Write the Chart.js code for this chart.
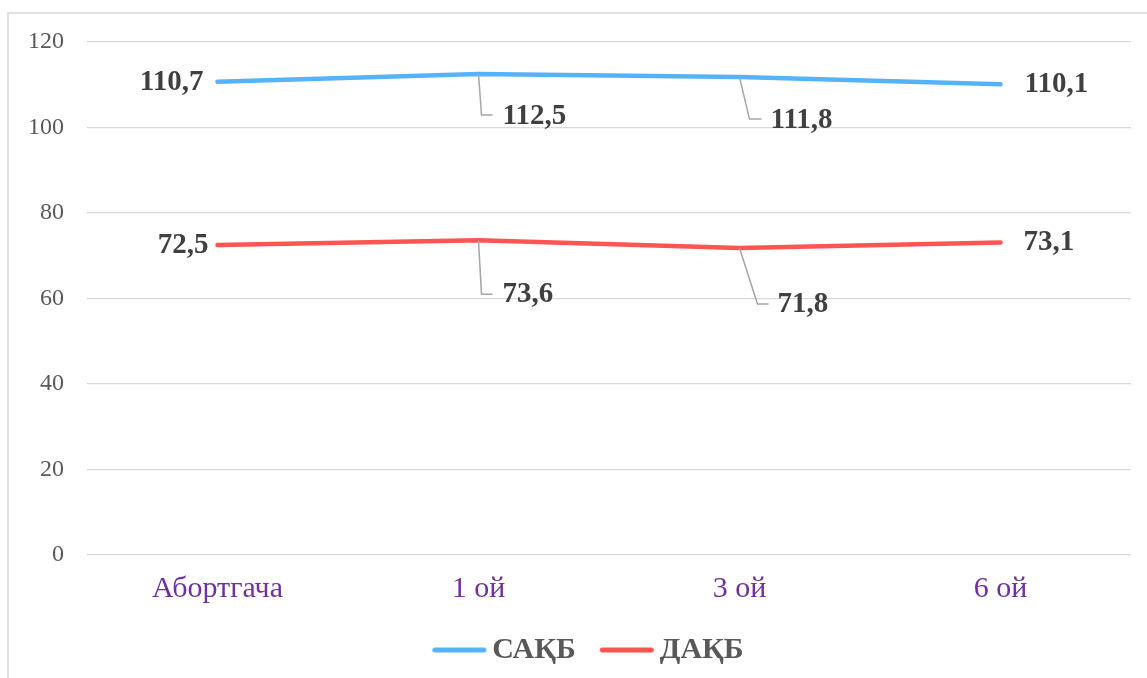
<!DOCTYPE html>
<html>
<head>
<meta charset="utf-8">
<script src="https://cdn.jsdelivr.net/npm/chart.js@4.4.1/dist/chart.umd.min.js"></script>
<style>
  html, body { margin: 0; padding: 0; background: #ffffff; }
  #wrap { position: relative; width: 1147px; height: 678px; }
</style>
</head>
<body>
<div id="wrap"><canvas id="chart" width="1147" height="678"></canvas></div>
<script>
// Categories and series values
const categories = ['Абортгача', '1 ой', '3 ой', '6 ой'];
const sakbValues = [110.7, 112.5, 111.8, 110.1];
const dakbValues = [72.5, 73.6, 71.8, 73.1];
const seriesNames = ['САҚБ', 'ДАҚБ'];
const yTicks = [0, 20, 40, 60, 80, 100, 120];

const SERIF = '"Liberation Serif", "Times New Roman", serif';

// Label placement per point: offset from the point, text alignment, optional leader line
const labelPlacement = [
  [
    { dx: -14, dy: 1, align: 'right' },
    { dx: 24, dy: 42, align: 'left', leader: [[3, 41], [14, 41]] },
    { dx: 31, dy: 43, align: 'left', leader: [[10, 42], [22, 42]] },
    { dx: 24, dy: 0, align: 'left' }
  ],
  [
    { dx: -9, dy: 0, align: 'right' },
    { dx: 24, dy: 54, align: 'left', leader: [[3, 54], [14, 54]] },
    { dx: 38, dy: 56, align: 'left', leader: [[18, 56], [29, 56]] },
    { dx: 23, dy: 0.5, align: 'left' }
  ]
];

// Legend marker: a short rounded line, placed so the text sits close to it
function legendMarker(color) {
  const c = document.createElement('canvas');
  c.width = 75;
  c.height = 8;
  const g = c.getContext('2d');
  g.strokeStyle = color;
  g.lineWidth = 5;
  g.lineCap = 'round';
  g.beginPath();
  g.moveTo(17.5, 4);
  g.lineTo(66.5, 4);
  g.stroke();
  return c;
}

// Frame around the chart (left and top edges)
const framePlugin = {
  id: 'frame',
  beforeDraw(chart) {
    const ctx = chart.ctx;
    ctx.save();
    ctx.strokeStyle = '#d9d9d9';
    ctx.lineWidth = 1.5;
    ctx.beginPath();
    ctx.moveTo(8, chart.height);
    ctx.lineTo(8, 13);
    ctx.lineTo(chart.width, 13);
    ctx.stroke();
    ctx.restore();
  }
};

// Legend sits a little right of the canvas centre
const legendShiftPlugin = {
  id: 'legendShift',
  afterLayout(chart) {
    const lg = chart.legend;
    if (lg) {
      lg.left += 18.5;
      lg.right += 18.5;
    }
  }
};

// Value labels with leader lines
const valueLabelPlugin = {
  id: 'valueLabels',
  afterDatasetsDraw(chart) {
    const ctx = chart.ctx;
    ctx.save();
    chart.data.datasets.forEach((ds, di) => {
      const meta = chart.getDatasetMeta(di);
      meta.data.forEach((pt, i) => {
        const p = labelPlacement[di][i];
        if (p.leader) {
          ctx.strokeStyle = '#a6a6a6';
          ctx.lineWidth = 1.5;
          ctx.beginPath();
          ctx.moveTo(pt.x, pt.y);
          p.leader.forEach(([lx, ly]) => ctx.lineTo(pt.x + lx, pt.y + ly));
          ctx.stroke();
        }
        ctx.fillStyle = '#404040';
        ctx.font = 'bold 29px ' + SERIF;
        ctx.textAlign = p.align;
        ctx.textBaseline = 'middle';
        ctx.fillText(String(ds.data[i]).replace('.', ','), pt.x + p.dx, pt.y + p.dy);
      });
    });
    ctx.restore();
  }
};

const seriesColors = ['#56b4f6', '#ff5552'];
const markers = seriesColors.map(legendMarker);

new Chart(document.getElementById('chart'), {
  type: 'line',
  data: {
    labels: categories,
    datasets: [
      {
        label: seriesNames[0],
        data: sakbValues,
        borderColor: seriesColors[0],
        backgroundColor: seriesColors[0],
        borderWidth: 4.5,
        borderCapStyle: 'round',
        borderJoinStyle: 'round',
        pointRadius: 0,
        tension: 0
      },
      {
        label: seriesNames[1],
        data: dakbValues,
        borderColor: seriesColors[1],
        backgroundColor: seriesColors[1],
        borderWidth: 4.5,
        borderCapStyle: 'round',
        borderJoinStyle: 'round',
        pointRadius: 0,
        tension: 0
      }
    ]
  },
  options: {
    responsive: false,
    animation: false,
    devicePixelRatio: 1,
    layout: { padding: { left: 8, top: 42, right: 16, bottom: 3 } },
    plugins: {
      legend: {
        position: 'bottom',
        labels: {
          usePointStyle: true,
          pointStyleWidth: 45,
          boxHeight: 8,
          padding: 24,
          color: '#595959',
          font: { family: SERIF, size: 30, weight: 'bold' },
          generateLabels(chart) {
            return chart.data.datasets.map((ds, i) => ({
              text: ds.label,
              pointStyle: markers[i],
              fillStyle: ds.borderColor,
              strokeStyle: ds.borderColor,
              lineWidth: 0,
              datasetIndex: i,
              fontColor: '#595959'
            }));
          }
        }
      },
      tooltip: { enabled: false }
    },
    scales: {
      x: {
        offset: true,
        grid: { display: false, drawTicks: false },
        border: { display: false },
        ticks: {
          color: '#7030a0',
          font: { family: SERIF, size: 30 },
          padding: 16,
          maxRotation: 0
        },
        afterFit(scale) { scale.height = 56; }
      },
      y: {
        min: 0,
        max: 120,
        afterBuildTicks(scale) { scale.ticks = yTicks.map(v => ({ value: v })); },
        grid: { color: '#d9d9d9', lineWidth: 1.3, drawTicks: false },
        border: { display: false },
        ticks: {
          color: '#595959',
          font: { family: SERIF, size: 24 },
          padding: 23
        },
        afterFit(scale) { scale.width = 79; }
      }
    }
  },
  plugins: [framePlugin, legendShiftPlugin, valueLabelPlugin]
});
</script>
</body>
</html>
